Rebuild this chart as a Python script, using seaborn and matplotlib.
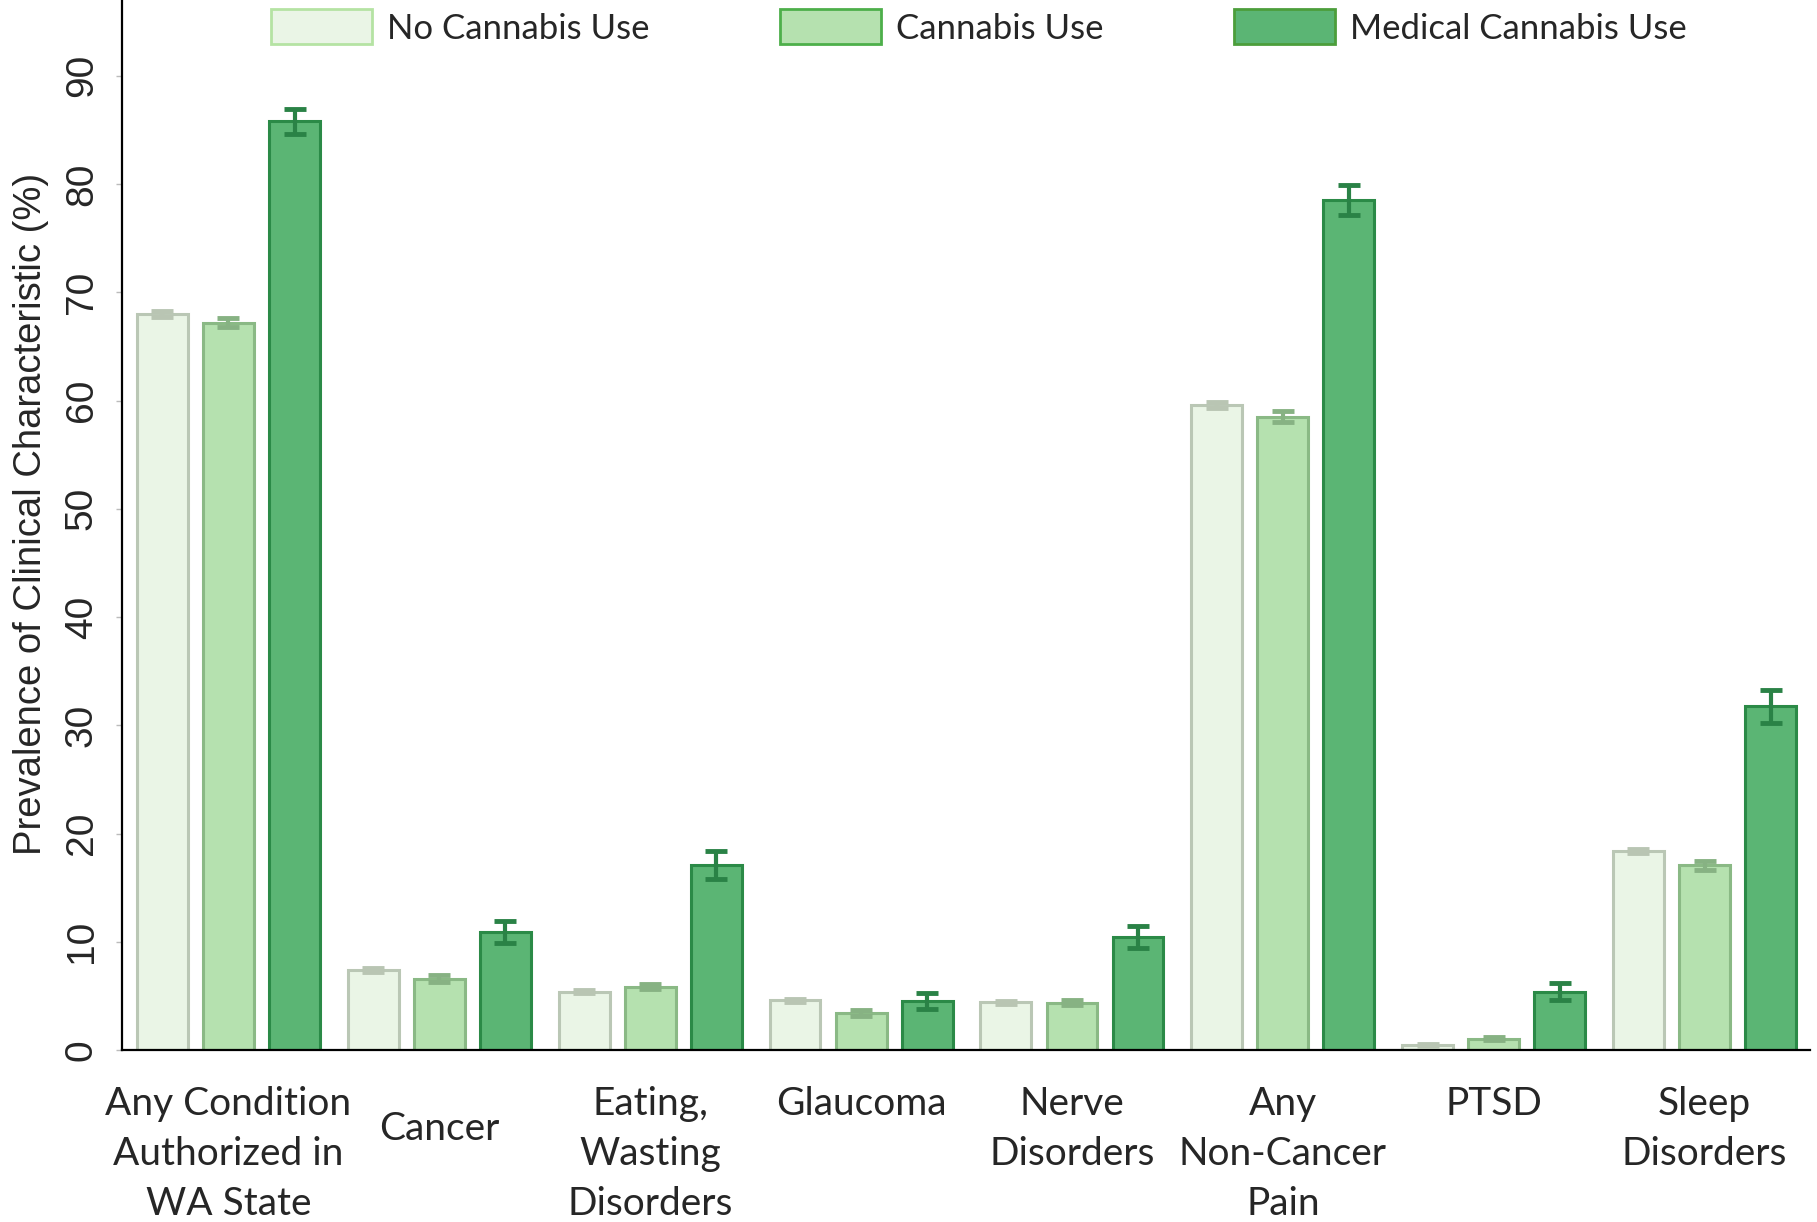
import numpy as np
import pandas as pd
import matplotlib
matplotlib.use("Agg")
import matplotlib.pyplot as plt
import matplotlib.transforms as mtransforms
from matplotlib.patches import Patch
import seaborn as sns

categories = ["Any Condition\nAuthorized in\nWA State", "Cancer", "Eating,\nWasting\nDisorders",
              "Glaucoma", "Nerve\nDisorders", "Any\nNon-Cancer\nPain", "PTSD", "Sleep\nDisorders"]
groups = ["No Cannabis Use", "Cannabis Use", "Medical Cannabis Use"]
no_use = [68.0, 7.4, 5.4, 4.6, 4.4, 59.6, 0.5, 18.4]
no_use_err = [0.25, 0.15, 0.15, 0.15, 0.15, 0.25, 0.1, 0.2]
cannabis_use = [67.2, 6.6, 5.85, 3.4, 4.35, 58.5, 1.05, 17.05]
cannabis_err = [0.45, 0.35, 0.25, 0.28, 0.23, 0.5, 0.12, 0.45]
medical_use = [85.8, 10.9, 17.1, 4.5, 10.45, 78.55, 5.4, 31.75]
medical_err = [1.15, 1.05, 1.3, 0.75, 1.05, 1.4, 0.75, 1.55]
yticks = list(range(0, 100, 10))
ylabel = "Prevalence of Clinical Characteristic (%)"

face_colors = ["#EAF5E6", "#B5E1AF", "#5BB574"]
edge_colors = ["#BAC7B5", "#8AB985", "#2B8A47"]
err_colors = ["#B9C5B3", "#87B283", "#2A8246"]
legend_edges = ["#B5E3A3", "#4DAF4A", "#4C9E3B"]

sns.set_style("white")
narrow = ["Liberation Sans Narrow", "Liberation Sans", "DejaVu Sans"]
humanist = ["Lato", "DejaVu Sans"]
plt.rcParams["font.family"] = humanist

values = [no_use, cannabis_use, medical_use]
errors = [no_use_err, cannabis_err, medical_err]
df = pd.DataFrame({
    "category": [c for g in groups for c in categories],
    "group": [g for g in groups for _ in categories],
    "value": [v for vals in values for v in vals],
})

W, H = 1817, 1222
fig = plt.figure(figsize=(W / 100, H / 100), dpi=100)
ax = fig.add_axes([122 / W, 1 - 1050 / H, (1810 - 122) / W, 1050 / H])

sns.barplot(data=df, x="category", y="value", hue="group", order=categories,
            hue_order=groups, palette=face_colors, saturation=1, width=0.94, gap=0.23,
            errorbar=None, legend=False, linewidth=2.2, ax=ax)

bar_containers = list(ax.containers)
for i, cont in enumerate(bar_containers):
    xs = []
    for bar in cont.patches:
        bar.set_edgecolor(edge_colors[i])
        xs.append(bar.get_x() + bar.get_width() / 2)
    ax.errorbar(xs, values[i], yerr=errors[i], fmt="none", ecolor=err_colors[i],
                elinewidth=3, capsize=8, capthick=3.5, zorder=5)

ax.set_xlim(-0.505, 7.5)
ax.set_ylim(0, 97)
ax.set_yticks(yticks)
ax.set_yticklabels([str(t) for t in yticks], rotation=90, va="center",
                   fontsize=28, family=narrow)
ax.set_xticks(range(len(categories)))
ax.set_xticklabels(categories, fontsize=28, family=humanist, linespacing=1.48)
ax.tick_params(axis="x", length=0, pad=26)
ax.tick_params(axis="y", length=4, width=1, color="#BBBBBB", pad=12, left=True)
ax.set_xlabel("")
ax.set_ylabel(ylabel, fontsize=27.5, family=narrow)
ax.yaxis.set_label_coords(-0.043, 0.5105)

for s in ["top", "right"]:
    ax.spines[s].set_visible(False)
for s in ["left", "bottom"]:
    ax.spines[s].set_color("black")
    ax.spines[s].set_linewidth(1.6)

# shift the single-line "Cancer" label down half a line as in the original
lab = ax.get_xticklabels()[1]
lab.set_transform(lab.get_transform() + mtransforms.ScaledTranslation(0, -0.25, fig.dpi_scale_trans))

handles = [Patch(facecolor=face_colors[i], edgecolor=legend_edges[i], linewidth=2, label=groups[i])
           for i in range(3)]
fig.legend(handles=handles, loc="center left", bbox_to_anchor=(271 / W, 1 - 27 / H),
           bbox_transform=fig.transFigure, ncol=3, frameon=False, handlelength=2.9,
           handleheight=1.17, handletextpad=0.45, columnspacing=3.75, borderpad=0,
           borderaxespad=0, prop={"family": humanist, "size": 25})

fig.savefig("out.png", dpi=100)
